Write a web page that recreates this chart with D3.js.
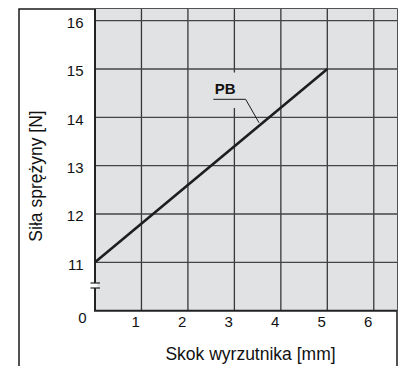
<!DOCTYPE html>
<html><head><meta charset="utf-8">
<script src="https://cdn.jsdelivr.net/npm/d3@7/dist/d3.min.js"></script>
<style>
html,body{margin:0;padding:0;background:#fff;}
svg{display:block;font-family:"Liberation Sans",Arial,sans-serif;}
</style></head>
<body>
<script>
// Data
const strokeX = [0, 5];          // Skok wyrzutnika [mm]
const forceY = [11, 15];         // Siła sprężyny [N]
const seriesName = "PB";
const xTicks = [1, 2, 3, 4, 5, 6];
const yTicks = [11, 12, 13, 14, 15, 16];
const yZeroLabel = "0";
const xTitle = "Skok wyrzutnika [mm]";
const yTitle = "Siła sprężyny [N]";
// annotation anchor (data units)
const labelAt = [2.8, 14.48];
const leaderPts = [[2.546, 14.373], [3.243, 14.373], [3.53, 13.889]];

const W = 402, H = 366;
const frame = {left: 19, top: 9, right: 397};
const plot = {left: 95, top: 9, right: 397, bottom: 310.7};

const svg = d3.select("body").append("svg").attr("width", W).attr("height", H);

const x = d3.scaleLinear().domain([0, 6.5]).range([plot.left, plot.right]);
const y = d3.scaleLinear().domain([0, 11, 16]).range([plot.bottom, 262.3, 20.7]);

// frame
svg.append("path")
  .attr("d", `M${frame.left},${H} V${frame.top} H${frame.right} V${H}`)
  .attr("fill", "none").attr("stroke", "#1a1a1a").attr("stroke-width", 1.5);

// plot background
svg.append("rect").attr("x", plot.left).attr("y", plot.top)
  .attr("width", plot.right - plot.left).attr("height", plot.bottom - plot.top)
  .attr("fill", "#e1e2e4");

// vertical gridlines
svg.append("g").selectAll("line").data(xTicks).join("line")
  .attr("x1", d => x(d)).attr("x2", d => x(d))
  .attr("y1", plot.top).attr("y2", plot.bottom)
  .attr("stroke", "#383838").attr("stroke-width", 1.3);

// label background (breaks gridline)
svg.append("rect")
  .attr("x", x(labelAt[0]) - 15).attr("y", y(15) + 3.5)
  .attr("width", 34).attr("height", 35.5)
  .attr("fill", "#e1e2e4");

// horizontal gridlines
svg.append("g").selectAll("line").data(yTicks).join("line")
  .attr("x1", plot.left).attr("x2", plot.right)
  .attr("y1", d => y(d)).attr("y2", d => y(d))
  .attr("stroke", "#444").attr("stroke-width", 1.3);

// axes lines (left, bottom)
svg.append("path")
  .attr("d", `M${plot.left},${plot.top} V${plot.bottom} H${plot.right}`)
  .attr("fill", "none").attr("stroke", "#222").attr("stroke-width", 2);

// axis break
const by = (y(0) + y(11)) / 2 - 1;
svg.append("rect").attr("x", plot.left - 2).attr("y", by - 2.5).attr("width", 4).attr("height", 5).attr("fill", "#fff");
[-2.5, 2.5].forEach(o => {
  svg.append("line").attr("x1", plot.left - 4.5).attr("x2", plot.left + 5)
    .attr("y1", by + o).attr("y2", by + o).attr("stroke", "#222").attr("stroke-width", 1.2);
});

// data line
const pts = strokeX.map((v, i) => [v, forceY[i]]);
svg.append("path").datum(pts)
  .attr("d", d3.line().x(d => x(d[0])).y(d => y(d[1])))
  .attr("fill", "none").attr("stroke", "#1e1e1e").attr("stroke-width", 2.6);

// annotation
svg.append("path").datum(leaderPts)
  .attr("d", d3.line().x(d => x(d[0])).y(d => y(d[1])))
  .attr("fill", "none").attr("stroke", "#1a1a1a").attr("stroke-width", 1);
svg.append("text").attr("x", x(labelAt[0])).attr("y", y(labelAt[1]))
  .attr("text-anchor", "middle").attr("font-size", 15).attr("font-weight", "bold")
  .attr("fill", "#111").text(seriesName);

// y tick labels
svg.append("g").selectAll("text").data(yTicks).join("text")
  .attr("x", 83.5).attr("y", d => y(d) + 7.3)
  .attr("text-anchor", "end").attr("font-size", 15).attr("fill", "#111")
  .text(d => d);
svg.append("text").attr("x", 86.5).attr("y", y(0) + 12.5)
  .attr("text-anchor", "end").attr("font-size", 15).attr("fill", "#111").text(yZeroLabel);

// x tick labels
svg.append("g").selectAll("text").data(xTicks).join("text")
  .attr("x", d => x(d) - 1.5).attr("y", 327)
  .attr("text-anchor", "end").attr("font-size", 15).attr("fill", "#111")
  .text(d => d);

// titles
svg.append("text").attr("x", 250.5).attr("y", 359.5)
  .attr("text-anchor", "middle").attr("font-size", 17.5).attr("fill", "#111").text(xTitle);
svg.append("text").attr("transform", "translate(42,176) rotate(-90)")
  .attr("text-anchor", "middle").attr("font-size", 17.5).attr("fill", "#111").text(yTitle);
</script>
</body></html>
